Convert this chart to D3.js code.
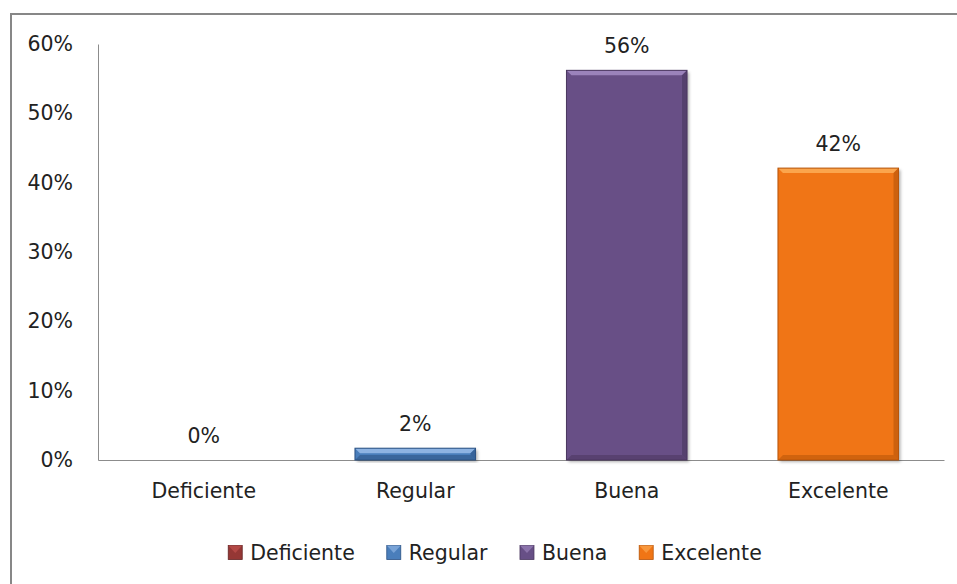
<!DOCTYPE html>
<html>
<head>
<meta charset="utf-8">
<script src="https://cdn.jsdelivr.net/npm/d3@7"></script>
<style>
  body { margin: 0; background: #fff; }
  text { font-family: "DejaVu Sans", sans-serif; fill: #222; }
</style>
</head>
<body>
<div id="container"></div>
<script>
    // data
    const categories = ["Deficiente", "Regular", "Buena", "Excelente"];
    const values = [0, 1.7, 56.2, 42.1];
    const valueLabels = ["0%", "2%", "56%", "42%"];
    const yTicks = [0, 10, 20, 30, 40, 50, 60];
    const colors = ["#953735", "#4a7ebb", "#674f86", "#f07515"];
    const lightColors = ["#c0504d", "#8db3e2", "#9b83bb", "#fba54d"];
    const darkColors = ["#632423", "#2c5283", "#4a375f", "#b6540a"];

    const width = 957;
    const height = 584;
    const marginTop = 44;
    const marginLeft = 98;
    const plotRight = 944;
    const plotBottom = 460;
    const fontSize = 20.5;

    const svg = d3.create("svg")
        .attr("width", width)
        .attr("height", height);
    // attach now so text can be measured
    container.append(svg.node());

    const defs = svg.append("defs");
    defs.append("filter")
        .attr("id", "shadow")
        .attr("x", "-10%").attr("y", "-10%")
        .attr("width", "130%").attr("height", "130%")
        .append("feDropShadow")
        .attr("dx", 2).attr("dy", 2)
        .attr("stdDeviation", 1.5)
        .attr("flood-color", "#000")
        .attr("flood-opacity", 0.3);

    // outer chart frame (runs off the right and bottom of the picture)
    svg.append("rect")
        .attr("x", 11)
        .attr("y", 14)
        .attr("width", 990)
        .attr("height", 600)
        .attr("fill", "none")
        .attr("stroke", "#878787")
        .attr("stroke-width", 2);

    const x = d3.scaleBand()
        .domain(categories)
        .range([marginLeft, plotRight])
        .paddingInner(0.43)
        .paddingOuter(0.215);

    const y = d3.scaleLinear()
        .domain([0, 60])
        .range([plotBottom, marginTop]);

    // y axis
    const yAxis = svg.append("g")
        .attr("transform", `translate(${marginLeft},0)`)
        .call(d3.axisLeft(y).tickValues(yTicks).tickSize(0).tickPadding(25)
            .tickFormat(d => d + "%"));
    yAxis.select(".domain").attr("stroke", "#8c8c8c");
    yAxis.selectAll("text")
        .attr("font-size", fontSize)
        .attr("font-family", "DejaVu Sans")
        .attr("fill", "#222");

    // x axis
    const xAxis = svg.append("g")
        .attr("transform", `translate(0,${plotBottom})`)
        .call(d3.axisBottom(x).tickSize(0).tickPadding(23));
    xAxis.select(".domain").attr("stroke", "#8c8c8c");
    xAxis.selectAll("text")
        .attr("font-size", fontSize)
        .attr("font-family", "DejaVu Sans")
        .attr("fill", "#222");

    // bars with bevel
    const bev = 5;
    const bars = svg.append("g")
        .selectAll("g")
        .data(values.map((v, i) => ({v, i})).filter(d => d.v > 0))
        .join("g");

    bars.each(function(d) {
        const i = d.i;
        const g = d3.select(this);
        const x0 = x(categories[i]);
        const x1 = x0 + x.bandwidth();
        const y0 = y(d.v);
        const y1 = y(0);
        const b = Math.min(bev, (y1 - y0) / 2);
        g.append("rect")
            .attr("x", x0).attr("y", y0)
            .attr("width", x1 - x0).attr("height", y1 - y0)
            .attr("fill", colors[i])
            .attr("filter", "url(#shadow)");
        // top face
        g.append("polygon")
            .attr("points", [[x0, y0], [x1, y0], [x1 - b, y0 + b], [x0 + b, y0 + b]].join(" "))
            .attr("fill", lightColors[i]);
        // bottom face
        g.append("polygon")
            .attr("points", [[x0, y1], [x1, y1], [x1 - b, y1 - b], [x0 + b, y1 - b]].join(" "))
            .attr("fill", darkColors[i])
            .attr("opacity", 0.55);
        // right face
        g.append("polygon")
            .attr("points", [[x1, y0], [x1 - b, y0 + b], [x1 - b, y1 - b], [x1, y1]].join(" "))
            .attr("fill", darkColors[i])
            .attr("opacity", 0.6);
        g.append("rect")
            .attr("x", x0).attr("y", y0)
            .attr("width", x1 - x0).attr("height", y1 - y0)
            .attr("fill", "none")
            .attr("stroke", darkColors[i])
            .attr("stroke-width", 1);
    });

    // value labels
    svg.append("g")
        .selectAll("text")
        .data(values)
        .join("text")
        .attr("x", (d, i) => x(categories[i]) + x.bandwidth() / 2)
        .attr("y", d => y(d) - 17)
        .attr("text-anchor", "middle")
        .attr("font-size", fontSize)
        .text((d, i) => valueLabels[i]);

    // legend
    const legend = svg.append("g");
    const items = legend.selectAll("g")
        .data(categories)
        .join("g");
    items.append("rect")
        .attr("width", 14).attr("height", 14)
        .attr("y", -7.5)
        .attr("fill", (d, i) => colors[i])
        .attr("stroke", (d, i) => darkColors[i])
        .attr("stroke-width", 0.8);
    items.append("polygon")
        .attr("points", "0,-7.5 14,-7.5 7,0")
        .attr("fill", (d, i) => lightColors[i])
        .attr("opacity", 0.7);
    items.append("text")
        .attr("x", 22)
        .attr("y", 7)
        .attr("font-size", fontSize)
        .text(d => d);

    const gap = 32;
    let pos = 0;
    items.each(function() {
        const w = this.getBBox().width;
        d3.select(this).attr("transform", `translate(${pos},553)`);
        pos += w + gap;
    });
    const total = pos - gap;
    legend.attr("transform", `translate(${495 - total / 2},0)`);
</script>
</body>
</html>
